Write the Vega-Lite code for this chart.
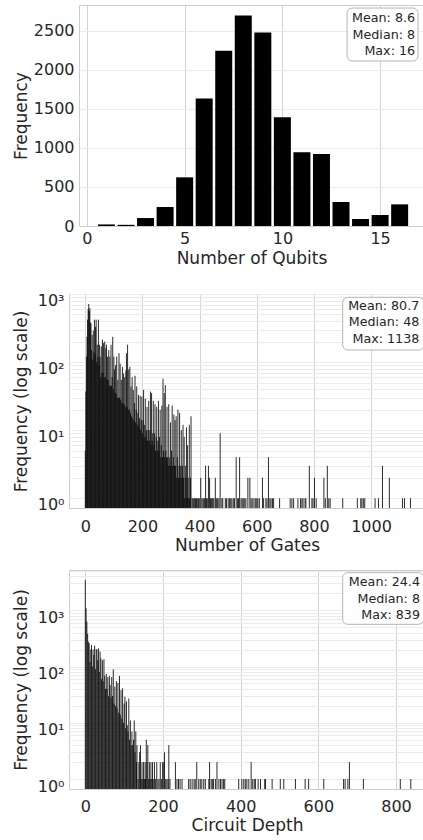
{
"$schema": "https://vega.github.io/schema/vega-lite/v6.json",
"padding": {"left": 11, "top": 5, "right": 0, "bottom": 5},
"config": {
  "font": "DejaVu Sans",
  "view": {"stroke": "#cccccc", "strokeWidth": 1},
  "axis": {"domain": false, "domainColor": "#cccccc", "domainWidth": 1, "ticks": false, "labelFont": "DejaVu Sans", "titleFont": "DejaVu Sans", "labelFontSize": 16, "titleFontSize": 17, "labelColor": "#262626", "titleColor": "#262626", "titleFontWeight": "normal", "gridWidth": 1, "labelFlush": false, "labelOverlap": false}
},
"datasets": {
  "qubits": [{"x":1,"n":20},{"x":2,"n":15},{"x":3,"n":102},{"x":4,"n":243},{"x":5,"n":623},{"x":6,"n":1634},{"x":7,"n":2244},{"x":8,"n":2696},{"x":9,"n":2479},{"x":10,"n":1391},{"x":11,"n":943},{"x":12,"n":921},{"x":13,"n":307},{"x":14,"n":90},{"x":15,"n":141},{"x":16,"n":277}],
  "gates": [{"x":0,"n":5},{"x":2,"n":37},{"x":4,"n":120},{"x":6,"n":236},{"x":8,"n":420},{"x":10,"n":600},{"x":12,"n":713},{"x":14,"n":560},{"x":16,"n":620},{"x":18,"n":380},{"x":20,"n":370},{"x":22,"n":150},{"x":24,"n":250},{"x":26,"n":110},{"x":28,"n":290},{"x":30,"n":140},{"x":32,"n":420},{"x":34,"n":130},{"x":36,"n":330},{"x":38,"n":420},{"x":40,"n":100},{"x":42,"n":180},{"x":44,"n":120},{"x":46,"n":420},{"x":48,"n":90},{"x":50,"n":180},{"x":52,"n":120},{"x":54,"n":60},{"x":56,"n":170},{"x":58,"n":70},{"x":60,"n":215},{"x":62,"n":70},{"x":64,"n":190},{"x":66,"n":60},{"x":68,"n":200},{"x":70,"n":60},{"x":72,"n":160},{"x":74,"n":180},{"x":76,"n":55},{"x":78,"n":120},{"x":80,"n":55},{"x":82,"n":150},{"x":84,"n":45},{"x":86,"n":120},{"x":88,"n":45},{"x":90,"n":180},{"x":92,"n":45},{"x":94,"n":60},{"x":96,"n":235},{"x":98,"n":40},{"x":100,"n":120},{"x":102,"n":78},{"x":104,"n":35},{"x":106,"n":90},{"x":108,"n":35},{"x":110,"n":120},{"x":112,"n":30},{"x":114,"n":55},{"x":116,"n":30},{"x":118,"n":135},{"x":120,"n":30},{"x":122,"n":95},{"x":124,"n":28},{"x":126,"n":55},{"x":128,"n":25},{"x":130,"n":85},{"x":132,"n":25},{"x":134,"n":68},{"x":136,"n":24},{"x":138,"n":60},{"x":140,"n":22},{"x":142,"n":75},{"x":144,"n":135},{"x":146,"n":22},{"x":148,"n":180},{"x":150,"n":20},{"x":152,"n":78},{"x":154,"n":20},{"x":156,"n":85},{"x":158,"n":18},{"x":160,"n":44},{"x":162,"n":16},{"x":164,"n":60},{"x":166,"n":15},{"x":168,"n":39},{"x":170,"n":14},{"x":172,"n":25},{"x":174,"n":63},{"x":176,"n":13},{"x":178,"n":20},{"x":180,"n":44},{"x":182,"n":12},{"x":184,"n":18},{"x":186,"n":33},{"x":188,"n":11},{"x":190,"n":15},{"x":192,"n":32},{"x":194,"n":10},{"x":196,"n":14},{"x":198,"n":31},{"x":200,"n":9},{"x":202,"n":14},{"x":204,"n":39},{"x":206,"n":8},{"x":208,"n":12},{"x":210,"n":29},{"x":212,"n":8},{"x":214,"n":10},{"x":216,"n":22},{"x":218,"n":7},{"x":220,"n":10},{"x":222,"n":27},{"x":224,"n":7},{"x":226,"n":10},{"x":228,"n":37},{"x":230,"n":6},{"x":232,"n":35},{"x":234,"n":7},{"x":236,"n":9},{"x":238,"n":27},{"x":240,"n":6},{"x":242,"n":9},{"x":244,"n":24},{"x":246,"n":5},{"x":248,"n":8},{"x":250,"n":22},{"x":252,"n":5},{"x":254,"n":7},{"x":256,"n":27},{"x":258,"n":5},{"x":260,"n":8},{"x":262,"n":20},{"x":264,"n":4},{"x":266,"n":6},{"x":268,"n":23},{"x":270,"n":4},{"x":272,"n":57},{"x":274,"n":5},{"x":276,"n":35},{"x":278,"n":4},{"x":280,"n":46},{"x":282,"n":5},{"x":284,"n":4},{"x":286,"n":22},{"x":288,"n":4},{"x":290,"n":3},{"x":292,"n":24},{"x":294,"n":4},{"x":296,"n":3},{"x":298,"n":13},{"x":300,"n":3},{"x":302,"n":5},{"x":304,"n":23},{"x":306,"n":3},{"x":308,"n":4},{"x":310,"n":17},{"x":312,"n":3},{"x":314,"n":14},{"x":316,"n":3},{"x":318,"n":16},{"x":320,"n":2},{"x":322,"n":4},{"x":324,"n":20},{"x":326,"n":2},{"x":328,"n":3},{"x":330,"n":18},{"x":332,"n":2},{"x":334,"n":3},{"x":336,"n":10},{"x":338,"n":2},{"x":340,"n":3},{"x":342,"n":12},{"x":344,"n":2},{"x":346,"n":8},{"x":348,"n":1},{"x":350,"n":3},{"x":352,"n":2},{"x":354,"n":11},{"x":356,"n":1},{"x":358,"n":6},{"x":360,"n":2},{"x":362,"n":1},{"x":364,"n":12},{"x":366,"n":1},{"x":368,"n":2},{"x":370,"n":16},
  {"x":374,"n":1},{"x":377,"n":1},{"x":380,"n":1},{"x":383,"n":1},{"x":386,"n":1},{"x":389,"n":1},{"x":392,"n":1},{"x":396,"n":1},{"x":399,"n":1},{"x":404,"n":2},{"x":408,"n":1},{"x":412,"n":1},{"x":415,"n":1},{"x":418,"n":1},{"x":421,"n":3},{"x":424,"n":1},{"x":427,"n":1},{"x":431,"n":3},{"x":435,"n":2},{"x":438,"n":1},{"x":441,"n":1},{"x":444,"n":1},{"x":447,"n":1},{"x":450,"n":1},{"x":455,"n":2},{"x":458,"n":1},{"x":461,"n":1},{"x":464,"n":1},{"x":468,"n":1},{"x":472,"n":9},{"x":478,"n":1},{"x":481,"n":1},{"x":490,"n":1},{"x":494,"n":1},{"x":500,"n":1},{"x":505,"n":1},{"x":509,"n":1},{"x":513,"n":1},{"x":518,"n":1},{"x":522,"n":1},{"x":528,"n":4},{"x":533,"n":1},{"x":536,"n":1},{"x":540,"n":4},{"x":545,"n":1},{"x":549,"n":1},{"x":553,"n":1},{"x":558,"n":1},{"x":562,"n":1},{"x":569,"n":2},{"x":576,"n":2},{"x":580,"n":1},{"x":584,"n":1},{"x":590,"n":1},{"x":595,"n":1},{"x":600,"n":1},{"x":604,"n":1},{"x":609,"n":1},{"x":620,"n":2},{"x":624,"n":1},{"x":632,"n":1},{"x":636,"n":1},{"x":641,"n":4},{"x":646,"n":1},{"x":650,"n":1},{"x":655,"n":1},{"x":659,"n":1},{"x":680,"n":1},{"x":717,"n":1},{"x":723,"n":1},{"x":729,"n":1},{"x":744,"n":1},{"x":753,"n":1},{"x":758,"n":1},{"x":762,"n":1},{"x":769,"n":1},{"x":772,"n":1},{"x":784,"n":3},{"x":793,"n":1},{"x":797,"n":1},{"x":802,"n":2},{"x":808,"n":1},{"x":835,"n":2},{"x":840,"n":1},{"x":847,"n":3},{"x":852,"n":1},{"x":857,"n":1},{"x":901,"n":1},{"x":952,"n":1},{"x":964,"n":1},{"x":968,"n":1},{"x":973,"n":1},{"x":978,"n":1},{"x":1014,"n":1},{"x":1026,"n":1},{"x":1040,"n":3},{"x":1064,"n":2},{"x":1110,"n":1},{"x":1117,"n":1},{"x":1138,"n":1}],
  "depth": [{"x":0,"n":3440},{"x":2,"n":1080},{"x":4,"n":630},{"x":6,"n":380},{"x":8,"n":275},{"x":10,"n":258},{"x":12,"n":120},{"x":14,"n":200},{"x":16,"n":240},{"x":18,"n":100},{"x":20,"n":200},{"x":22,"n":160},{"x":24,"n":235},{"x":26,"n":90},{"x":28,"n":205},{"x":30,"n":200},{"x":32,"n":130},{"x":34,"n":210},{"x":36,"n":80},{"x":38,"n":185},{"x":40,"n":140},{"x":42,"n":60},{"x":44,"n":130},{"x":46,"n":55},{"x":48,"n":135},{"x":50,"n":68},{"x":52,"n":40},{"x":54,"n":74},{"x":56,"n":40},{"x":58,"n":65},{"x":60,"n":30},{"x":62,"n":68},{"x":64,"n":47},{"x":66,"n":28},{"x":68,"n":65},{"x":70,"n":30},{"x":72,"n":89},{"x":74,"n":22},{"x":76,"n":44},{"x":78,"n":20},{"x":80,"n":55},{"x":82,"n":18},{"x":84,"n":51},{"x":86,"n":15},{"x":88,"n":68},{"x":90,"n":14},{"x":92,"n":38},{"x":94,"n":12},{"x":96,"n":41},{"x":98,"n":10},{"x":100,"n":22},{"x":102,"n":29},{"x":104,"n":8},{"x":106,"n":24},{"x":108,"n":9},{"x":110,"n":7},{"x":112,"n":27},{"x":114,"n":5},{"x":116,"n":11},{"x":118,"n":4},{"x":120,"n":7},{"x":122,"n":4},{"x":124,"n":5},{"x":126,"n":11},{"x":128,"n":3},{"x":130,"n":7},
  {"x":132,"n":2},{"x":133,"n":4},{"x":136,"n":1},{"x":138,"n":2},{"x":140,"n":3},{"x":142,"n":4},{"x":144,"n":1},{"x":146,"n":2},{"x":148,"n":1},{"x":150,"n":2},{"x":152,"n":1},{"x":154,"n":2},{"x":155,"n":1},{"x":157,"n":5},{"x":159,"n":2},{"x":161,"n":4},{"x":163,"n":1},{"x":165,"n":2},{"x":167,"n":1},{"x":169,"n":2},{"x":171,"n":1},{"x":173,"n":2},{"x":175,"n":1},{"x":178,"n":2},{"x":181,"n":1},{"x":184,"n":2},{"x":187,"n":1},{"x":190,"n":1},{"x":193,"n":2},{"x":196,"n":1},{"x":199,"n":2},{"x":202,"n":2},{"x":204,"n":3},{"x":207,"n":1},{"x":210,"n":1},{"x":213,"n":1},{"x":215,"n":4},{"x":218,"n":1},
  {"x":232,"n":2},{"x":236,"n":1},{"x":240,"n":1},{"x":244,"n":1},{"x":249,"n":1},{"x":266,"n":1},{"x":270,"n":1},{"x":275,"n":1},{"x":280,"n":1},{"x":283,"n":1},{"x":287,"n":2},{"x":292,"n":1},{"x":296,"n":1},{"x":300,"n":1},{"x":305,"n":1},{"x":309,"n":1},{"x":318,"n":1},{"x":320,"n":2},{"x":324,"n":1},{"x":327,"n":1},{"x":330,"n":1},{"x":335,"n":1},{"x":339,"n":2},{"x":344,"n":1},{"x":348,"n":1},{"x":352,"n":1},{"x":356,"n":1},{"x":359,"n":1},{"x":395,"n":1},{"x":403,"n":1},{"x":408,"n":1},{"x":412,"n":1},{"x":416,"n":1},{"x":421,"n":1},{"x":427,"n":2},{"x":431,"n":1},{"x":435,"n":1},{"x":438,"n":1},{"x":445,"n":1},{"x":451,"n":1},{"x":462,"n":1},{"x":464,"n":1},{"x":481,"n":1},{"x":502,"n":1},{"x":511,"n":1},{"x":541,"n":1},{"x":566,"n":1},{"x":575,"n":1},{"x":614,"n":1},{"x":665,"n":1},{"x":669,"n":1},{"x":676,"n":1},{"x":680,"n":2},{"x":716,"n":1},{"x":811,"n":1},{"x":838,"n":1}]
},
"bounds": "flush",
"spacing": 68,
"vconcat": [
  {
    "width": 355, "height": 221,
    "view": {"stroke": null},
    "resolve": {"axis": {"x": "independent", "y": "independent"}},
    "layer": [
      {
        "data": {"name": "qubits"},
        "mark": {"type": "bar", "width": 17, "color": "black"},
        "encoding": {
          "x": {"field": "x", "type": "quantitative", "scale": {"domain": [-0.149, 16.99], "range": [10, 355], "nice": false, "zero": false},
                "axis": {"title": "Number of Qubits", "values": [0, 5, 10, 15], "format": "d", "grid": true, "gridColor": "#d4d4d4", "domain": true, "labelPadding": 4, "labelBaseline": "top", "titleY": 37, "titleBaseline": "alphabetic"}},
          "y": {"field": "n", "type": "quantitative", "scale": {"domain": [0, 2830], "nice": false},
                "axis": {"title": "Frequency", "values": [0, 500, 1000, 1500, 2000, 2500], "format": "d", "grid": true, "gridColor": "#ebebeb", "domain": true, "offset": -10, "labelPadding": 5, "titleX": -58, "titleBaseline": "middle"}}
        }
      },
      {
        "data": {"values": [{}]},
        "mark": {"type": "rect", "fill": "white", "fillOpacity": 0.85, "stroke": "#b5b5b5", "strokeWidth": 1, "cornerRadius": 5},
        "encoding": {
          "x": {"datum": 13.31, "axis": {"orient": "top", "domain": true, "labels": false, "grid": false, "title": null}},
          "x2": {"datum": 16.94},
          "y": {"datum": 2791, "axis": {"orient": "right", "domain": true, "labels": false, "grid": false, "title": null}},
          "y2": {"datum": 2113}
        }
      },
      {
        "data": {"values": [{}]},
        "mark": {"type": "text", "align": "right", "baseline": "middle", "lineHeight": 16.3, "fontSize": 12.7, "color": "#262626"},
        "encoding": {"x": {"datum": 16.79, "axis": null}, "y": {"datum": 2660, "axis": null}, "text": {"value": ["Mean: 8.6", "Median: 8", "Max: 16"]}}
      }
    ]
  },
  {
    "bounds": "flush",
    "spacing": 62,
    "vconcat": [
      {
        "width": 356, "height": 214,
        "layer": [
          {
            "data": {"name": "gates"},
            "mark": {"type": "rule", "color": "black", "opacity": 0.83, "strokeWidth": 1, "clip": true},
            "encoding": {
              "x": {"field": "x", "type": "quantitative", "scale": {"domain": [-57, 1188.8], "nice": false, "zero": false},
                    "axis": {"title": "Number of Gates", "values": [0, 200, 400, 600, 800, 1000], "format": "d", "grid": true, "gridColor": "#d4d4d4", "labelPadding": 10, "labelBaseline": "top", "titleY": 42, "titleBaseline": "alphabetic"}},
              "y": {"field": "n", "type": "quantitative", "scale": {"type": "log", "domain": [0.72, 1000], "nice": false},
                    "axis": {"title": "Frequency (log scale)", "values": [1,2,3,4,5,6,7,8,9,10,20,30,40,50,60,70,80,90,100,200,300,400,500,600,700,800,900,1000], "labelExpr": "datum.value == 1 ? '10⁰' : datum.value == 10 ? '10¹' : datum.value == 100 ? '10²' : datum.value == 1000 ? '10³' : ''", "grid": true, "gridColor": "#ebebeb", "labelPadding": 5, "labelOffset": 6, "titleX": -48, "titleBaseline": "middle"}},
              "y2": {"datum": 0.72}
            }
          },
          {
            "data": {"values": [{}]},
            "mark": {"type": "rect", "fill": "white", "fillOpacity": 0.85, "stroke": "#b5b5b5", "strokeWidth": 1, "cornerRadius": 5},
            "encoding": {"x": {"datum": 900.8}, "x2": {"datum": 1184.3}, "y": {"datum": 894}, "y2": {"datum": 150.6}}
          },
          {
            "data": {"values": [{}]},
            "mark": {"type": "text", "align": "right", "baseline": "middle", "lineHeight": 16.3, "fontSize": 12.7, "color": "#262626"},
            "encoding": {"x": {"datum": 1168.9}, "y": {"datum": 666}, "text": {"value": ["Mean: 80.7", "Median: 48", "Max: 1138"]}}
          }
        ]
      },
      {
        "width": 356, "height": 219,
        "layer": [
          {
            "data": {"name": "depth"},
            "mark": {"type": "rule", "color": "black", "opacity": 0.83, "strokeWidth": 1, "clip": true},
            "encoding": {
              "x": {"field": "x", "type": "quantitative", "scale": {"domain": [-42, 874.6], "nice": false, "zero": false},
                    "axis": {"title": "Circuit Depth", "values": [0, 200, 400, 600, 800], "format": "d", "grid": true, "gridColor": "#d4d4d4", "labelPadding": 9, "labelBaseline": "top", "titleY": 41.5, "titleBaseline": "alphabetic"}},
              "y": {"field": "n", "type": "quantitative", "scale": {"type": "log", "domain": [0.665, 5190], "nice": false},
                    "axis": {"title": "Frequency (log scale)", "values": [1,2,3,4,5,6,7,8,9,10,20,30,40,50,60,70,80,90,100,200,300,400,500,600,700,800,900,1000,2000,3000,4000,5000], "labelExpr": "datum.value == 1 ? '10⁰' : datum.value == 10 ? '10¹' : datum.value == 100 ? '10²' : datum.value == 1000 ? '10³' : ''", "grid": true, "gridColor": "#ebebeb", "labelPadding": 5, "labelOffset": 7, "titleX": -48, "titleBaseline": "middle"}},
              "y2": {"datum": 0.665}
            }
          },
          {
            "data": {"values": [{}]},
            "mark": {"type": "rect", "fill": "white", "fillOpacity": 0.85, "stroke": "#b5b5b5", "strokeWidth": 1, "cornerRadius": 5},
            "encoding": {"x": {"datum": 662.7}, "x2": {"datum": 871.2}, "y": {"datum": 4645}, "y2": {"datum": 562}}
          },
          {
            "data": {"values": [{}]},
            "mark": {"type": "text", "align": "right", "baseline": "middle", "lineHeight": 16.3, "fontSize": 12.7, "color": "#262626"},
            "encoding": {"x": {"datum": 861.7}, "y": {"datum": 3136}, "text": {"value": ["Mean: 24.4", "Median: 8", "Max: 839"]}}
          }
        ]
      }
    ]
  }
]
}
